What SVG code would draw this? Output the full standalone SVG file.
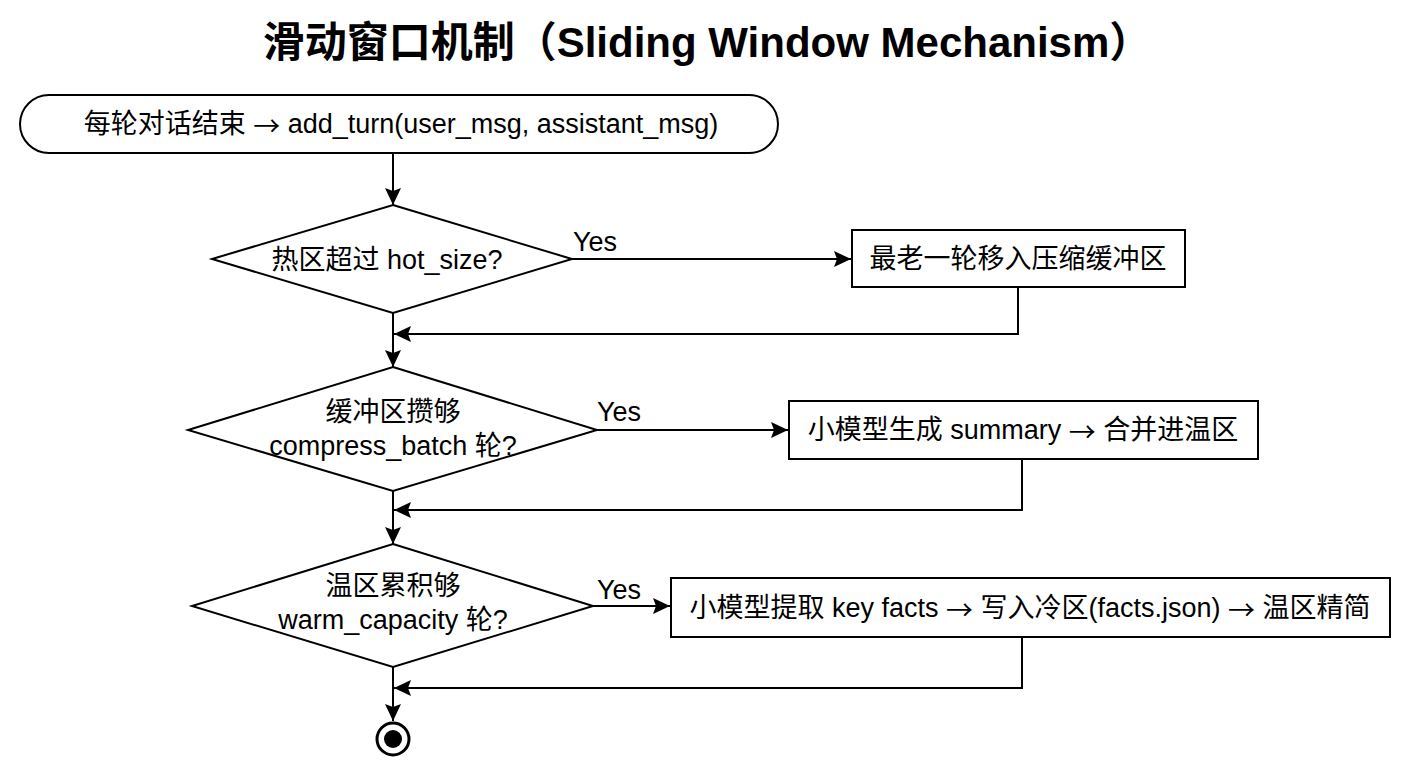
<svg xmlns="http://www.w3.org/2000/svg" width="1408" height="768" viewBox="0 0 1408 768">
<defs>
<marker id="ah" viewBox="0 0 17 16" refX="17" refY="8" markerWidth="17" markerHeight="16" markerUnits="userSpaceOnUse" orient="auto">
<path d="M0,0 L17,8 L0,16 L3,8 Z" fill="#000"/>
</marker>
</defs>
<style>
.s{fill:#fff;stroke:#000;stroke-width:2}
.t{font-family:"Liberation Sans","Noto Sans CJK SC",sans-serif;font-size:27px;fill:#000;text-anchor:middle;dominant-baseline:central}
.a{font-family:"Noto Sans CJK SC",sans-serif}
.c{fill:none;stroke:#000;stroke-width:2;marker-end:url(#ah)}
.title{font-family:"Liberation Sans","Noto Sans CJK SC",sans-serif;font-size:42px;font-weight:bold;fill:#000;text-anchor:middle;dominant-baseline:central}
</style>
<rect width="1408" height="768" fill="#fff"/>
<text class="title" x="707" y="42">滑动窗口机制（Sliding Window Mechanism）</text>
<g id="connectors">
<path class="c" d="M393,153 L393,205"/>
<path class="c" d="M572,259 L851,259"/>
<path class="c" d="M1018,287 L1018,334 L394,334"/>
<path class="c" d="M393,313 L393,367"/>
<path class="c" d="M597,430 L788,430"/>
<path class="c" d="M1022,459 L1022,510 L394,510"/>
<path class="c" d="M393,491 L393,544"/>
<path class="c" d="M593,606 L670,606"/>
<path class="c" d="M1022,637 L1022,688 L394,688"/>
<path class="c" d="M393,667 L393,721"/>
<text class="t" x="595" y="242">Yes</text>
<text class="t" x="619" y="412">Yes</text>
<text class="t" x="619" y="590">Yes</text>
</g>
<g id="start">
<rect class="s" x="20" y="95" width="758" height="58" rx="29" ry="29"/>
<text class="t" x="401" y="124">每轮对话结束 <tspan class="a">→</tspan> add_turn(user_msg, assistant_msg)</text>
</g>
<g id="d1">
<polygon class="s" points="393,205 572,259 393,313 212,259"/>
<text class="t" x="387" y="260">热区超过 hot_size?</text>
</g>
<g id="b1">
<rect class="s" x="852" y="230" width="333" height="57"/>
<text class="t" x="1018" y="259">最老一轮移入压缩缓冲区</text>
</g>
<g id="d2">
<polygon class="s" points="393,367 597,430 393,491 188,430"/>
<text class="t" x="393" y="412">缓冲区攒够</text>
<text class="t" x="393" y="446">compress_batch 轮?</text>
</g>
<g id="b2">
<rect class="s" x="789" y="401" width="469" height="58"/>
<text class="t" x="1023" y="430">小模型生成 summary <tspan class="a">→</tspan> 合并进温区</text>
</g>
<g id="d3">
<polygon class="s" points="393,544 593,606 393,667 192,606"/>
<text class="t" x="393" y="586">温区累积够</text>
<text class="t" x="393" y="620">warm_capacity 轮?</text>
</g>
<g id="b3">
<rect class="s" x="671" y="578" width="719" height="59"/>
<text class="t" x="1030" y="608">小模型提取 key facts <tspan class="a">→</tspan> 写入冷区(facts.json) <tspan class="a">→</tspan> 温区精简</text>
</g>
<g id="end">
<circle cx="393" cy="739" r="16" fill="#fff" stroke="#000" stroke-width="3"/>
<circle cx="393" cy="739" r="9" fill="#000"/>
</g>
</svg>
